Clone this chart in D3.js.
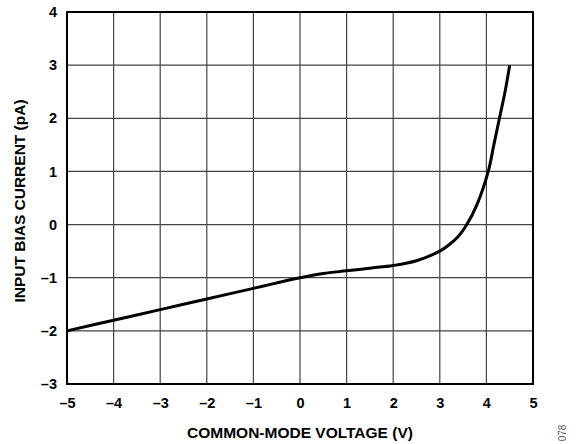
<!DOCTYPE html>
<html>
<head>
<meta charset="utf-8">
<script src="https://cdn.jsdelivr.net/npm/d3@7"></script>
<style>
  body { margin: 0; background: #fff; }
  text { font-family: "Liberation Sans", Arial, sans-serif; font-weight: bold; fill: #000; }
</style>
</head>
<body>
<div id="chart"></div>
<script>
// common-mode voltage (V) and input bias current (pA)
var voltage = [-5, -4, -3, -2, -1, 0, 0.5, 1, 1.5, 2, 2.5, 3, 3.2, 3.4, 3.58, 3.8, 4.04, 4.16, 4.28, 4.4, 4.5];
var biasCurrent = [-2, -1.8, -1.6, -1.4, -1.2, -1.0, -0.92, -0.87, -0.82, -0.77, -0.68, -0.5, -0.38, -0.22, 0, 0.38, 1, 1.5, 2, 2.5, 3];
var xTicks = [-5, -4, -3, -2, -1, 0, 1, 2, 3, 4, 5];
var yTicks = [-3, -2, -1, 0, 1, 2, 3, 4];

var margin = { top: 12, right: 43, bottom: 60, left: 67 },
    width = 576 - margin.left - margin.right,
    height = 444 - margin.top - margin.bottom;

var svg = d3.select("#chart")
    .append("svg")
    .attr("width", 576)
    .attr("height", 444)
    .append("g")
    .attr("transform", "translate(" + margin.left + "," + margin.top + ")");

var x = d3.scaleLinear().domain([-5, 5]).range([0, width]);
var y = d3.scaleLinear().domain([-3, 4]).range([height, 0]);

var fmt = function (d) { return d < 0 ? "\u2013" + Math.abs(d) : String(d); };

// grid
svg.append("g")
    .selectAll("line")
    .data(xTicks)
    .enter().append("line")
    .attr("x1", function (d) { return x(d); })
    .attr("x2", function (d) { return x(d); })
    .attr("y1", 0).attr("y2", height)
    .attr("stroke", "#444").attr("stroke-width", 1.2);
svg.append("g")
    .selectAll("line")
    .data(yTicks)
    .enter().append("line")
    .attr("y1", function (d) { return y(d); })
    .attr("y2", function (d) { return y(d); })
    .attr("x1", 0).attr("x2", width)
    .attr("stroke", "#444").attr("stroke-width", 1.2);

// frame
svg.append("rect")
    .attr("width", width).attr("height", height)
    .attr("fill", "none").attr("stroke", "#000").attr("stroke-width", 2);

// axes (labels only)
var xAxis = svg.append("g")
    .attr("transform", "translate(0," + height + ")")
    .call(d3.axisBottom(x).tickValues(xTicks).tickFormat(fmt).tickSize(0).tickPadding(14));
xAxis.select(".domain").remove();
xAxis.selectAll("text").style("font-size", "14.5px").style("font-family", "Liberation Sans, Arial, sans-serif");

var yAxis = svg.append("g")
    .call(d3.axisLeft(y).tickValues(yTicks).tickFormat(fmt).tickSize(0).tickPadding(10));
yAxis.select(".domain").remove();
yAxis.selectAll("text").style("font-size", "14.5px").style("font-family", "Liberation Sans, Arial, sans-serif");

// curve
var line = d3.line()
    .x(function (d, i) { return x(voltage[i]); })
    .y(function (d) { return y(d); })
    .curve(d3.curveCatmullRom);
svg.append("path")
    .datum(biasCurrent)
    .attr("d", line)
    .attr("fill", "none")
    .attr("stroke", "#000")
    .attr("stroke-width", 3);

// titles
svg.append("text")
    .attr("x", width / 2)
    .attr("y", height + 54)
    .attr("text-anchor", "middle")
    .style("font-size", "15.5px")
    .text("COMMON-MODE VOLTAGE (V)");

svg.append("text")
    .attr("transform", "translate(-42," + (height / 2 + 3) + ")rotate(-90)")
    .attr("text-anchor", "middle")
    .style("font-size", "15.5px")
    .text("INPUT BIAS CURRENT (pA)");

d3.select("svg").append("text")
    .attr("transform", "translate(566,433)rotate(-90)")
    .attr("text-anchor", "middle")
    .style("font-size", "10px")
    .style("font-weight", "normal")
    .style("fill", "#555")
    .text("078");
</script>
</body>
</html>
